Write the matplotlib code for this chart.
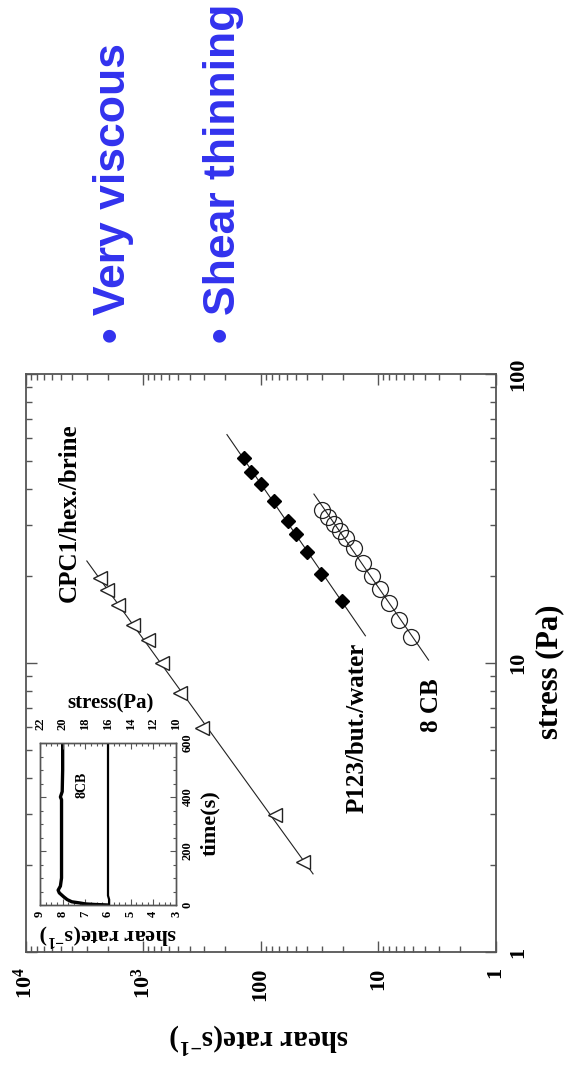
import numpy as np
import matplotlib
matplotlib.use('Agg')
import matplotlib.pyplot as plt
from matplotlib.ticker import LogLocator, NullFormatter, FixedLocator, MultipleLocator

# ---------------- data ----------------
cpc_rate = [2320, 2025, 1630, 1217, 906, 689, 484, 315, 75.3, 43.5]
cpc_stress = [19.7, 17.9, 15.9, 13.5, 12.0, 10.0, 7.87, 5.96, 2.98, 2.05]
cpc_fit_range = [3006, 35.7]

p123_rate = [138, 121, 100, 77.1, 58.9, 50.1, 39.9, 30.4, 20.3]
p123_stress = [51.1, 45.9, 41.6, 36.4, 31.0, 27.9, 24.2, 20.4, 16.4]
p123_fit_range = [193, 12.8]

cb_rate = [30.0, 26.6, 23.7, 21.0, 18.7, 16.0, 13.4, 11.2, 9.6, 8.06, 6.62, 5.24]
cb_stress = [33.8, 32.0, 30.3, 28.6, 27.1, 25.0, 22.2, 20.0, 18.0, 16.1, 14.1, 12.3]
cb_fit_range = [35.1, 3.71]

shear_ticks = [1, 10, 100, 1000, 10000]
shear_ticklabels = ['1', '10', '100', r'$10^3$', r'$10^4$']
stress_ticks = [1, 10, 100]
stress_ticklabels = ['1', '10', '100']

inset_time = [0, 2, 4, 7, 12, 20, 30, 45, 55, 70, 100, 200, 300, 390, 400, 420, 500, 600]
inset_rate = [6.0, 6.6, 7.0, 7.2, 7.6, 7.8, 7.95, 8.15, 8.2, 8.1, 8.05, 8.05, 8.05, 8.05, 8.1, 8.02, 8.0, 8.0]
inset_stress_time = [0, 20, 35, 600]
inset_stress = [15.9, 15.9, 16.0, 16.0]
inset_rate_ticks = [9, 8, 7, 6, 5, 4, 3]
inset_stress_ticks = [22, 20, 18, 16, 14, 12, 10]
inset_time_ticks = [0, 200, 400, 600]

# ---------------- style ----------------
plt.rcParams['font.family'] = ['Liberation Serif', 'DejaVu Serif']
plt.rcParams['font.weight'] = 'bold'
plt.rcParams['mathtext.fontset'] = 'custom'
plt.rcParams['mathtext.rm'] = 'Liberation Serif:bold'
plt.rcParams['mathtext.bf'] = 'Liberation Serif:bold'
plt.rcParams['mathtext.it'] = 'Liberation Serif:bold:italic'

W, H = 567, 1068
fig = plt.figure(figsize=(W / 100, H / 100), dpi=100)
fig.patch.set_facecolor('white')


def fx(px):
    return px / W


def fy(py):
    return 1 - py / H


frame_col = '#555555'

ax = fig.add_axes([fx(25.5), fy(952), fx(495.5) - fx(25.5), fy(374) - fy(952)])
ax.set_xscale('log')
ax.set_yscale('log')


def fit_line(rate, stress, rng):
    a, b = np.polyfit(np.log10(rate), np.log10(stress), 1)
    r = np.array(rng, dtype=float)
    return r, 10 ** (a * np.log10(r) + b)


for rate, stress, rng in [(cpc_rate, cpc_stress, cpc_fit_range),
                          (p123_rate, p123_stress, p123_fit_range),
                          (cb_rate, cb_stress, cb_fit_range)]:
    r, s = fit_line(rate, stress, rng)
    ax.plot(r, s, color='#222222', lw=0.8, zorder=2)

ax.plot(cpc_rate, cpc_stress, linestyle='none', marker='<', ms=10.5, mfc='white',
        mec='#222222', mew=1.0, zorder=3)
ax.plot(p123_rate, p123_stress, linestyle='none', marker='D', ms=7.5, mfc='black',
        mec='black', mew=1.0, zorder=3)
ax.plot(cb_rate, cb_stress, linestyle='none', marker='o', ms=11.5, mfc='none',
        mec='#222222', mew=0.9, zorder=3)

ax.set_xlim(1e4, 1)
ax.set_ylim(1, 100)
ax.xaxis.set_major_locator(FixedLocator(shear_ticks))
ax.set_xticklabels(shear_ticklabels)
ax.yaxis.set_major_locator(FixedLocator(stress_ticks))
ax.set_yticklabels(stress_ticklabels)
ax.xaxis.set_minor_locator(LogLocator(base=10, subs=np.arange(2, 10), numticks=20))
ax.yaxis.set_minor_locator(LogLocator(base=10, subs=np.arange(2, 10), numticks=20))
ax.xaxis.set_minor_formatter(NullFormatter())
ax.yaxis.set_minor_formatter(NullFormatter())

ax.tick_params(which='both', direction='in', top=True, bottom=True, left=True, right=True,
               color=frame_col, width=1.0)
ax.tick_params(which='major', length=8)
ax.tick_params(which='minor', length=4)
ax.tick_params(axis='x', labelsize=16, labelrotation=90, pad=11)
ax.tick_params(axis='y', labelsize=16, labelrotation=90, labelleft=False, labelright=True, pad=9)
for lab in ax.get_yticklabels():
    lab.set_va('center')
for sp in ax.spines.values():
    sp.set_color(frame_col)
    sp.set_linewidth(1.3)

# axis labels (rotated figure)
fig.text(fx(550), fy(672), 'stress (Pa)', rotation=90, ha='center', va='center',
         fontsize=22, fontweight='bold')
fig.text(fx(259), fy(1037), r'shear rate(s$^{-1}$)', rotation=180, ha='center', va='center',
         fontsize=21, fontweight='bold')

# series labels
fig.text(fx(69), fy(602), 'CPC1/hex./brine', rotation=90, ha='center', va='bottom',
         fontsize=18, fontweight='bold')
fig.text(fx(357), fy(813), 'P123/but./water', rotation=90, ha='center', va='bottom',
         fontsize=18, fontweight='bold')
fig.text(fx(431), fy(732), '8 CB', rotation=90, ha='center', va='bottom',
         fontsize=18, fontweight='bold')

# ---------------- inset ----------------
axin = fig.add_axes([fx(40), fy(905), fx(176) - fx(40), fy(743) - fy(905)])
axin.plot(inset_rate, inset_time, color='black', lw=2.4)
axin.set_xlim(9, 3)
axin.set_ylim(0, 600)
axin.set_xticks(inset_rate_ticks)
axin.set_yticks(inset_time_ticks)
axin.xaxis.set_minor_locator(MultipleLocator(0.25))
axin.yaxis.set_minor_locator(MultipleLocator(50))
axin.tick_params(which='both', direction='in', left=True, right=True, bottom=True, top=False,
                 color=frame_col, width=0.8)
axin.tick_params(which='major', length=4)
axin.tick_params(which='minor', length=2)
axin.tick_params(axis='x', labelsize=9, labelrotation=90, pad=4)
axin.tick_params(axis='y', labelsize=9, labelrotation=90, labelleft=False, labelright=True, pad=4)
for lab in axin.get_yticklabels():
    lab.set_va('center')

axtop = axin.twiny()
axtop.plot(inset_stress, inset_stress_time, color='black', lw=1.6)
axtop.set_xlim(22, 10)
axtop.set_xticks(inset_stress_ticks)
axtop.xaxis.set_minor_locator(MultipleLocator(0.5))
axtop.tick_params(which='both', direction='in', top=True, bottom=False, color=frame_col, width=0.8)
axtop.tick_params(which='major', length=4)
axtop.tick_params(which='minor', length=2)
axtop.tick_params(axis='x', labelsize=9, labelrotation=90, pad=9)
for a in (axin, axtop):
    for sp in a.spines.values():
        sp.set_color(frame_col)
        sp.set_linewidth(1.0)

fig.text(fx(111), fy(703), 'stress(Pa)', ha='center', va='center', fontsize=15, fontweight='bold')
fig.text(fx(108), fy(935), r'shear rate(s$^{-1}$)', rotation=180, ha='center', va='center',
         fontsize=16, fontweight='bold')
fig.text(fx(210), fy(823), 'time(s)', rotation=90, ha='center', va='center',
         fontsize=16, fontweight='bold')
fig.text(fx(82), fy(785), '8CB', rotation=90, ha='center', va='center', fontsize=10,
         fontweight='bold')

# ---------------- bullet text ----------------
blue = '#3232ee'
fig.text(fx(113), fy(343), '\u2022 Very viscous', rotation=90, ha='center', va='bottom',
         fontsize=32, fontweight='bold', color=blue, family=['Liberation Sans', 'DejaVu Sans'])
fig.text(fx(224), fy(343), '\u2022 Shear thinning', rotation=90, ha='center', va='bottom',
         fontsize=32, fontweight='bold', color=blue, family=['Liberation Sans', 'DejaVu Sans'])

fig.savefig('out.png', dpi=100, facecolor='white')
